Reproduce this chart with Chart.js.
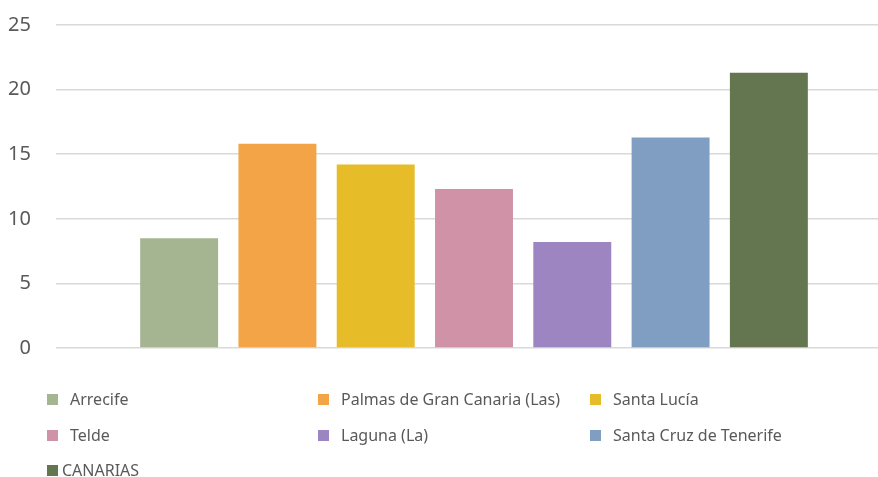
<!DOCTYPE html>
<html>
<head>
<meta charset="utf-8">
<script src="https://cdn.jsdelivr.net/npm/chart.js@4"></script>
<style>
  html, body { margin: 0; padding: 0; background: #fff; overflow: hidden; width: 878px; height: 477px; }
  #wrap { position: absolute; left: 0; top: 0; width: 900px; height: 360px; }
  #legend { position: absolute; left: 0; top: 0; width: 878px; height: 477px; pointer-events: none;
            font-family: 'Noto Sans', sans-serif; font-size: 16px; color: #595959; }
  .item { position: absolute; display: flex; align-items: center; white-space: nowrap; height: 20px; }
  .sw { width: 11px; height: 11px; display: inline-block; }
</style>
</head>
<body>
<div id="wrap"><canvas id="chart"></canvas></div>
<div id="legend"></div>
<script>
const seriesNames  = ['Arrecife', 'Palmas de Gran Canaria (Las)', 'Santa Lucía', 'Telde', 'Laguna (La)', 'Santa Cruz de Tenerife', 'CANARIAS'];
const seriesValues = [8.5, 15.8, 14.2, 12.3, 8.2, 16.3, 21.3];
const seriesColors = ['#A5B592', '#F3A447', '#E7BC29', '#D092A7', '#9C85C0', '#809EC2', '#637650'];
const yTicks       = [0, 5, 10, 15, 20, 25];

// legend layout (Excel-style 3 columns)
const legendCols = [47, 318, 590];
const legendRows = [389, 425, 460];

const ctx = document.getElementById('chart');

new Chart(ctx, {
  type: 'bar',
  data: {
    labels: [''],
    datasets: seriesNames.map((name, i) => ({
      label: name,
      data: [seriesValues[i]],
      backgroundColor: seriesColors[i],
      borderWidth: 0,
      categoryPercentage: 0.823,
      barPercentage: 0.793,
    })),
  },
  options: {
    responsive: true,
    maintainAspectRatio: false,
    animation: false,
    layout: { padding: { top: 25, right: 8, bottom: 12, left: 0 } },
    plugins: { legend: { display: false }, tooltip: { enabled: false } },
    scales: {
      x: { display: false },
      y: {
        min: 0, max: 25,
        afterBuildTicks: s => { s.ticks = yTicks.map(v => ({ value: v })); },
        afterFit: s => { s.width = 56; s.paddingTop = 0; s.paddingBottom = 0; },
        border: { display: false },
        grid: { color: '#d9d9d9', lineWidth: 1.5, drawTicks: false },
        ticks: {
          padding: 25,
          color: '#595959',
          font: { family: "'Noto Sans', sans-serif", size: 20 },
        },
      },
    },
  },
});

// HTML legend
const legend = document.getElementById('legend');
seriesNames.forEach((name, i) => {
  const el = document.createElement('div');
  el.className = 'item';
  el.style.left = legendCols[i % 3] + 'px';
  el.style.top = legendRows[Math.floor(i / 3)] + 'px';
  const gap = i === 6 ? 4 : 12;
  el.innerHTML = `<span class="sw" style="background:${seriesColors[i]};margin-right:${gap}px"></span>${name}`;
  legend.appendChild(el);
});
</script>
</body>
</html>
